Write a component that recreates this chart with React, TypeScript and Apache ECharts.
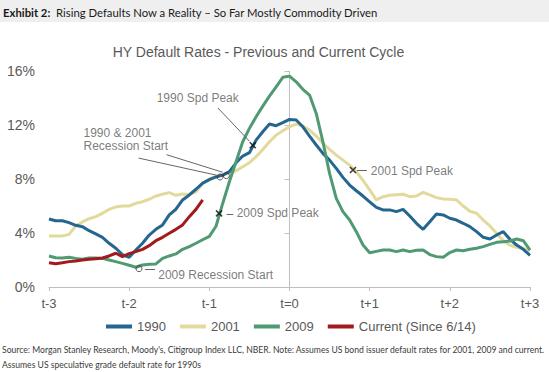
import React, { useEffect, useRef } from 'react';
import * as echarts from 'echarts';

// Monthly default rates, t-3 .. t+3 (73 points each)
const s1990 = [
  5.04, 4.91, 4.91, 4.77, 4.57, 4.47, 4.17, 3.93, 3.68, 3.24, 2.87, 2.4, 2.2,
  2.74, 3.24, 3.85, 4.27, 4.6, 5.34, 5.76, 6.45, 6.82, 7.24, 7.7, 7.95, 8.15,
  8.29, 8.54, 9.2, 9.7, 9.95, 10.88, 11.5, 12.07, 11.95, 12.17, 12.41, 12.37,
  11.87, 11.18, 10.52, 9.9, 9.4, 8.79, 8.12, 7.55, 7.13, 6.74, 6.3, 5.9, 5.71,
  5.71, 5.58, 5.75, 5.26, 4.72, 4.27, 4.84, 5.41, 5.34, 5.09, 4.96, 4.72, 4.47,
  4.1, 3.68, 3.56, 3.85, 4.1, 3.53, 3.11, 2.79, 2.35,
];
const s2001 = [
  3.78, 3.78, 3.78, 3.9, 4.52, 4.82, 5.06, 5.21, 5.46, 5.75, 5.93, 6.0, 6.0,
  6.2, 6.32, 6.5, 6.74, 6.87, 6.99, 6.79, 6.89, 6.85, 7.05, 7.65, 8.0, 8.2,
  8.29, 8.46, 8.61, 8.91, 9.21, 9.65, 10.19, 10.76, 11.25, 11.58, 11.87, 12.07,
  11.92, 11.62, 11.18, 10.64, 10.19, 9.77, 9.4, 9.03, 8.54, 7.9, 7.2, 6.45,
  6.69, 6.79, 6.84, 6.87, 6.69, 6.74, 7.01, 6.82, 6.62, 6.52, 6.5, 6.45, 6.0,
  5.61, 5.46, 4.96, 4.52, 3.98, 3.43, 3.09, 2.94, 2.84, 2.69,
];
const s2009 = [
  2.3, 2.17, 2.15, 2.2, 2.12, 2.05, 2.15, 2.15, 2.12, 2.0, 1.88, 1.75, 1.61,
  1.46, 1.63, 1.68, 1.71, 2.12, 2.3, 2.45, 2.79, 2.99, 3.24, 3.5, 3.75, 4.5,
  6.19, 7.8, 9.28, 10.76, 11.75, 12.61, 13.4, 14.14, 14.83, 15.53, 15.62, 15.2,
  14.64, 14.22, 12.86, 10.76, 8.42, 6.56, 5.58, 4.96, 4.1, 3.11, 2.54, 2.64,
  2.74, 2.74, 2.62, 2.74, 2.62, 2.72, 2.74, 2.4, 2.25, 2.2, 2.55, 2.74, 2.69,
  2.79, 2.87, 2.99, 3.16, 3.31, 3.36, 3.41, 3.56, 3.43, 2.74,
];
const sCurrent = [
  1.8, 1.73, 1.8, 1.88, 1.93, 2.0, 2.05, 2.1, 2.15, 2.3, 2.5, 2.25, 2.47, 2.62,
  2.79, 3.06, 3.43, 3.68, 3.98, 4.27, 4.6, 5.21, 5.75, 6.45,
];

const seriesNames = ['1990', '2001', '2009', 'Current (Since 6/14)'];
const xTickLabels = ['t-3', 't-2', 't-1', 't=0', 't+1', 't+2', 't+3'];

// Annotations in data coordinates (months from t=0, default rate %)
const crossMarkers = [
  [-5.5, 10.5],
  [9.5, 8.67],
  [-10.55, 5.45],
];
const circleMarkers = [
  [-22.53, 1.36],
  [-10.4, 8.15],
  [-9.45, 8.25],
];
const leaderLines = [
  [[-10.71, 13.26], [-6.0, 10.8]],
  [[-22.6, 9.55], [-10.9, 8.28]],
  [[-18.4, 9.8], [-10.0, 8.5]],
  [[10.09, 8.67], [11.58, 8.67]],
  [[-9.41, 5.42], [-8.42, 5.42]],
  [[-21.64, 1.28], [-20.14, 1.28]],
];
const annotationTexts = [
  { name: '1990 Spd Peak', at: [-19.88, 13.98] },
  { name: '1990 & 2001\nRecession Start', at: [-30.84, 10.93] },
  { name: '2001 Spd Peak', at: [12.18, 8.6] },
  { name: '2009 Spd Peak', at: [-7.91, 5.45] },
  { name: '2009 Recession Start', at: [-19.65, 0.89] },
];

const toPairs = (arr: number[]) => arr.map((v, i) => [i - 36, v]);

const FONT = 'Liberation Sans';
const GRAY = '#595959';

export default function App() {
  const ref = useRef<HTMLDivElement>(null);
  useEffect(() => {
    if (!ref.current) return;
    const chart = echarts.init(ref.current, null, { renderer: 'svg' });
    const lineSeries = (name: string, data: number[], color: string) => ({
      name,
      type: 'line',
      data: toPairs(data),
      showSymbol: false,
      symbol: 'none',
      lineStyle: { color, width: 3 },
      itemStyle: { color },
      z: 2,
    });
    const option: any = {
      animation: false,
      backgroundColor: '#ffffff',
      textStyle: { fontFamily: FONT },
      grid: { left: 49, right: 19, top: 71, bottom: 85, containLabel: false },
      xAxis: {
        type: 'value',
        min: -36,
        max: 36,
        interval: 12,
        axisLine: { show: true, onZero: false, lineStyle: { color: '#bfbfbf', width: 1 } },
        axisTick: { show: true, length: 4, lineStyle: { color: '#bfbfbf' } },
        splitLine: { show: false },
        axisLabel: {
          color: GRAY,
          fontSize: 13,
          fontFamily: FONT,
          margin: 10,
          formatter: (v: number) => xTickLabels[Math.round((v + 36) / 12)] ?? '',
        },
      },
      yAxis: {
        type: 'value',
        min: 0,
        max: 16,
        interval: 4,
        axisLine: { show: true, lineStyle: { color: '#bfbfbf', width: 1 } },
        axisTick: { show: true, length: 5, lineStyle: { color: '#bfbfbf' } },
        splitLine: { show: false },
        axisLabel: {
          color: GRAY,
          fontSize: 14,
          fontFamily: FONT,
          margin: 14,
          formatter: (v: number) => v + '%',
        },
      },
      legend: {
        data: seriesNames,
        left: 101,
        top: 315,
        icon: 'rect',
        itemWidth: 26,
        itemHeight: 4,
        itemGap: 14,
        textStyle: { color: GRAY, fontSize: 13, fontFamily: FONT },
      },
      series: [
        lineSeries('2001', s2001, '#e2da9c'),
        lineSeries('1990', s1990, '#24668f'),
        lineSeries('2009', s2009, '#4f9a72'),
        lineSeries('Current (Since 6/14)', sCurrent, '#a11a1d'),
        {
          type: 'lines',
          coordinateSystem: 'cartesian2d',
          polyline: false,
          silent: true,
          z: 4,
          lineStyle: { color: '#666', width: 1, opacity: 1 },
          data: leaderLines.map((c) => ({ coords: c })),
        },
        {
          type: 'scatter',
          silent: true,
          z: 5,
          symbol: 'path://M0,0L10,10M10,0L0,10',
          symbolSize: 6,
          itemStyle: { color: 'transparent', borderColor: '#111', borderWidth: 1.6 },
          data: crossMarkers,
        },
        {
          type: 'scatter',
          silent: true,
          z: 5,
          symbol: 'circle',
          symbolSize: 6,
          itemStyle: { color: 'rgba(255,255,255,0)', borderColor: '#333', borderWidth: 1 },
          data: circleMarkers,
        },
        {
          type: 'scatter',
          silent: true,
          z: 6,
          symbol: 'circle',
          symbolSize: 1,
          itemStyle: { color: 'rgba(0,0,0,0)' },
          label: {
            show: true,
            position: 'inside',
            align: 'left',
            verticalAlign: 'middle',
            color: GRAY,
            fontSize: 12,
            lineHeight: 13,
            fontFamily: FONT,
            formatter: (p: any) => p.name,
          },
          data: annotationTexts.map((a) => ({ name: a.name, value: a.at })),
        },
      ],
      graphic: [
        { type: 'rect', shape: { x: 0, y: 0, width: 549, height: 22 }, style: { fill: '#efefef' }, silent: true },
        {
          type: 'text',
          x: 3,
          y: 12,
          style: {
            text: '{b|Exhibit 2:}  Rising Defaults Now a Reality – So Far Mostly Commodity Driven',
            fontFamily: 'Lato',
            fontSize: 11.3,
            fill: '#1a1a1a',
            verticalAlign: 'middle',
            rich: { b: { fontWeight: 'bold', fontFamily: 'Lato', fontSize: 11.3, fill: '#1a1a1a' } },
          },
        },
        {
          type: 'text',
          x: 258.5,
          y: 52,
          style: {
            text: 'HY Default Rates - Previous and Current Cycle',
            fontFamily: FONT,
            fontSize: 14,
            fill: GRAY,
            align: 'center',
            verticalAlign: 'middle',
          },
        },
        {
          type: 'text',
          x: 2,
          y: 350,
          style: {
            text: "Source: Morgan Stanley Research, Moody's, Citigroup Index LLC, NBER. Note: Assumes US bond issuer default rates for 2001, 2009 and current.",
            fontFamily: 'Lato',
            fontSize: 8.6,
            fill: '#3a3a3a',
            verticalAlign: 'middle',
          },
        },
        {
          type: 'text',
          x: 2,
          y: 365,
          style: {
            text: 'Assumes US speculative grade default rate for 1990s',
            fontFamily: 'Lato',
            fontSize: 8.6,
            fill: '#3a3a3a',
            verticalAlign: 'middle',
          },
        },
      ],
    };
    chart.setOption(option);
    return () => chart.dispose();
  }, []);
  return <div ref={ref} style={{ position: 'fixed', left: 0, top: 0, width: 549, height: 372 }} />;
}
